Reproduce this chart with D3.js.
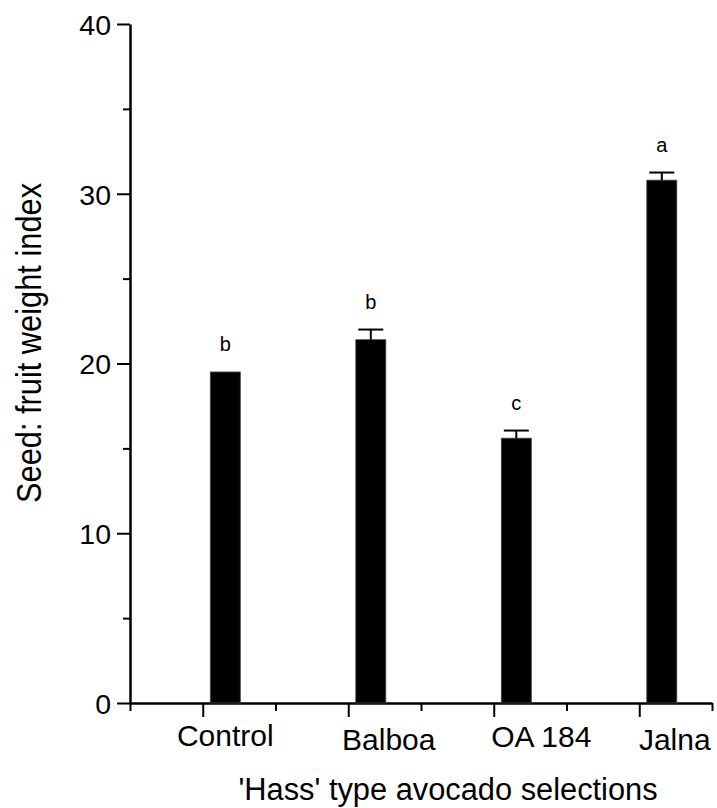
<!DOCTYPE html>
<html>
<head>
<meta charset="utf-8">
<script src="https://cdn.jsdelivr.net/npm/d3@7"></script>
<style>
    body { margin: 0; background: #fff; }
    text { font-family: 'Liberation Sans', Arial, sans-serif; fill: #000; }
</style>
</head>
<body>
<div id="chart"></div>
<script>
const categories = ['Control', 'Balboa', 'OA 184', 'Jalna'];
const values = [19.5, 21.4, 15.6, 30.8];
const errors = [0, 0.6, 0.45, 0.45];
const letters = ['b', 'b', 'c', 'a'];
const yTicks = [0, 10, 20, 30, 40];
const yMinorTicks = [5, 15, 25, 35];

const width = 717;
const height = 808;
const barWidth = 30;
const barShift = 0.155;          // bars sit right of their major tick
// hand placed category labels in the original
const labelShift = [0, 18, 25, 13];
const labelDy = [0, 3.5, 1, 4];

let svg = d3.select('#chart').append('svg')
    .attr('width', width)
    .attr('height', height);

let x = d3.scaleLinear().domain([-0.5, 3.5]).range([130, 712]);
let y = d3.scaleLinear().domain([0, 40]).range([703, 24]);

// y axis
let yAxis = svg.append('g')
    .attr('transform', 'translate(130,0)')
    .call(d3.axisLeft(y).tickValues(yTicks).tickSize(13).tickSizeOuter(0).tickPadding(6));
svg.append('g')
    .attr('transform', 'translate(130,0)')
    .call(d3.axisLeft(y).tickValues(yMinorTicks).tickSize(7).tickSizeOuter(0).tickFormat(''))
    .select('.domain').remove();
yAxis.selectAll('text')
    .style('font-size', '28.5px')
    .attr('dy', '0.36em');

// x axis
svg.append('g')
    .attr('transform', 'translate(0,703)')
    .call(d3.axisBottom(x).tickValues(d3.range(4)).tickSize(14).tickSizeOuter(0).tickFormat(''));
svg.append('g')
    .attr('transform', 'translate(0,703)')
    .call(d3.axisBottom(x).tickValues(d3.range(-0.5, 4, 1)).tickSize(8).tickSizeOuter(0).tickFormat(''))
    .select('.domain').remove();

svg.selectAll('.domain').attr('stroke', '#000').attr('stroke-width', 2.5);
svg.selectAll('.tick line').attr('stroke', '#000').attr('stroke-width', 2);

// bars
svg.selectAll('rect.bar')
    .data(values)
    .enter()
    .append('rect')
    .attr('class', 'bar')
    .attr('x', (d, i) => x(i + barShift) - barWidth / 2)
    .attr('y', d => y(d))
    .attr('width', barWidth)
    .attr('height', d => y(0) - y(d))
    .attr('fill', '#000')
    .attr('stroke', '#444')
    .attr('stroke-width', 0.8);

// error bars
let err = svg.selectAll('g.err')
    .data(values.map((v, i) => ({v: v, e: errors[i], i: i})).filter(d => d.e > 0))
    .enter()
    .append('g')
    .attr('class', 'err')
    .attr('stroke', '#000')
    .attr('stroke-width', 2);
err.append('line')
    .attr('x1', d => x(d.i + barShift))
    .attr('x2', d => x(d.i + barShift))
    .attr('y1', d => y(d.v))
    .attr('y2', d => y(d.v + d.e));
err.append('line')
    .attr('x1', d => x(d.i + barShift) - 12.5)
    .attr('x2', d => x(d.i + barShift) + 12.5)
    .attr('y1', d => y(d.v + d.e))
    .attr('y2', d => y(d.v + d.e));

// significance letters
svg.selectAll('text.letter')
    .data(letters)
    .enter()
    .append('text')
    .attr('class', 'letter')
    .attr('x', (d, i) => x(i + barShift))
    .attr('y', (d, i) => y(values[i] + errors[i]) - 21)
    .attr('text-anchor', 'middle')
    .style('font-size', '20px')
    .text(d => d);

// category labels
svg.selectAll('text.cat')
    .data(categories)
    .enter()
    .append('text')
    .attr('class', 'cat')
    .attr('x', (d, i) => x(i + barShift) + labelShift[i])
    .attr('y', (d, i) => 746 + labelDy[i])
    .attr('text-anchor', 'middle')
    .style('font-size', '30px')
    .text(d => d);

// axis titles
svg.append('text')
    .attr('x', 448)
    .attr('y', 800)
    .attr('text-anchor', 'middle')
    .style('font-size', '30.8px')
    .text("'Hass' type avocado selections");

svg.append('text')
    .attr('transform', 'translate(41,343) scale(1.12,1) rotate(-90)')
    .attr('text-anchor', 'middle')
    .style('font-size', '30.8px')
    .text('Seed: fruit weight index');
</script>
</body>
</html>
